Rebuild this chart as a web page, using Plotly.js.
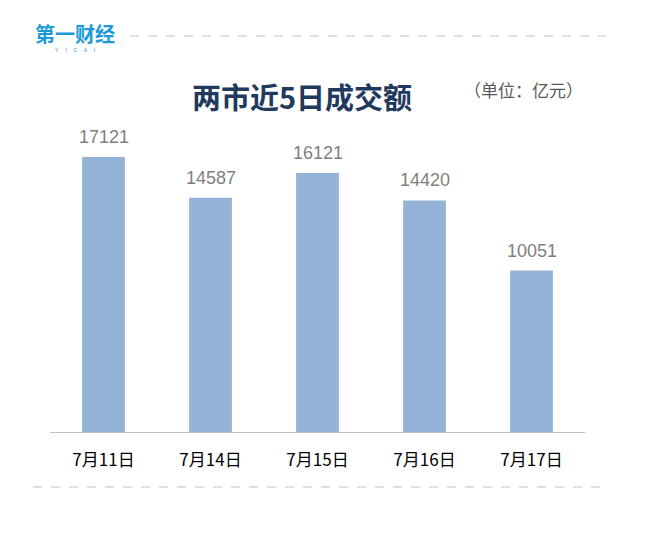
<!DOCTYPE html>
<html>
<head>
<meta charset="utf-8">
<script src="https://cdn.plot.ly/plotly-3.0.1.min.js"></script>
<style>html,body{margin:0;padding:0;background:#fff;}#chart{width:656px;height:534px;}</style>
</head>
<body>
<div id="chart"></div>
<script>
const categories = ["7月11日", "7月14日", "7月15日", "7月16日", "7月17日"];
const values = [17121, 14587, 16121, 14420, 10051];
const valueLabels = ["17121", "14587", "16121", "14420", "10051"];

const font = '"Noto Sans CJK SC", "Noto Sans", sans-serif';
const numFont = '"Liberation Sans", Arial, sans-serif';

const trace = {
  type: 'bar',
  x: categories,
  y: values,
  marker: {color: '#95b3d7'},
  hoverinfo: 'skip'
};

// pixel -> paper helpers
const pl = 50, pw = 656 - 50 - 71, pt = 100, ph = 534 - 100 - 102;
function px(x) { return (x - pl) / pw; }
function py(y) { return 1 - (y - pt) / ph; }

const annotations = [
  {text: '<b>两市近5日成交额</b>', xref: 'paper', yref: 'paper', x: px(302), y: py(96), xanchor: 'center', yanchor: 'middle',
   showarrow: false, font: {family: font, size: 29, color: '#1f3a5c'}},
  {text: '（单位：亿元）', xref: 'paper', yref: 'paper', x: px(523), y: py(89), xanchor: 'center', yanchor: 'middle',
   showarrow: false, font: {family: font, size: 17, color: '#595959'}},
  {text: '<b>第一财经</b>', xref: 'paper', yref: 'paper', x: px(75), y: py(34), xanchor: 'center', yanchor: 'middle',
   showarrow: false, font: {family: font, size: 20, color: '#1a9ad6'}},
  {text: 'Y     I     C     A     I', xref: 'paper', yref: 'paper', x: px(75), y: py(50), xanchor: 'center', yanchor: 'middle',
   showarrow: false, font: {family: numFont, size: 5, color: '#1a9ad6'}}
];
categories.forEach((c, i) => {
  annotations.push({
    x: c, y: values[i], xref: 'x', yref: 'y', text: valueLabels[i],
    xanchor: 'center', yanchor: 'bottom', yshift: 8, showarrow: false,
    font: {family: numFont, size: 18, color: '#7f7f7f'}
  });
});

const layout = {
  width: 656, height: 534,
  margin: {l: 50, r: 71, t: 100, b: 102},
  paper_bgcolor: '#ffffff', plot_bgcolor: '#ffffff',
  bargap: 0.6,
  showlegend: false,
  xaxis: {
    type: 'category',
    showline: true, linecolor: '#bfbfbf', linewidth: 1,
    ticks: '', showgrid: false,
    tickfont: {family: font, size: 17, color: '#000000'},
    ticklabelstandoff: 13
  },
  yaxis: {
    range: [0, 20670],
    visible: false, showgrid: false, zeroline: false
  },
  annotations: annotations,
  shapes: [
    {type: 'line', xref: 'paper', yref: 'paper', x0: px(130), x1: px(606), y0: py(36), y1: py(36),
     line: {color: '#bfbfbf', width: 1, dash: 'dash'}},
    {type: 'line', xref: 'paper', yref: 'paper', x0: px(33), x1: px(606), y0: py(487), y1: py(487),
     line: {color: '#bfbfbf', width: 1, dash: 'dash'}}
  ]
};

Plotly.newPlot('chart', [trace], layout, {displayModeBar: false, staticPlot: true});
</script>
</body>
</html>
